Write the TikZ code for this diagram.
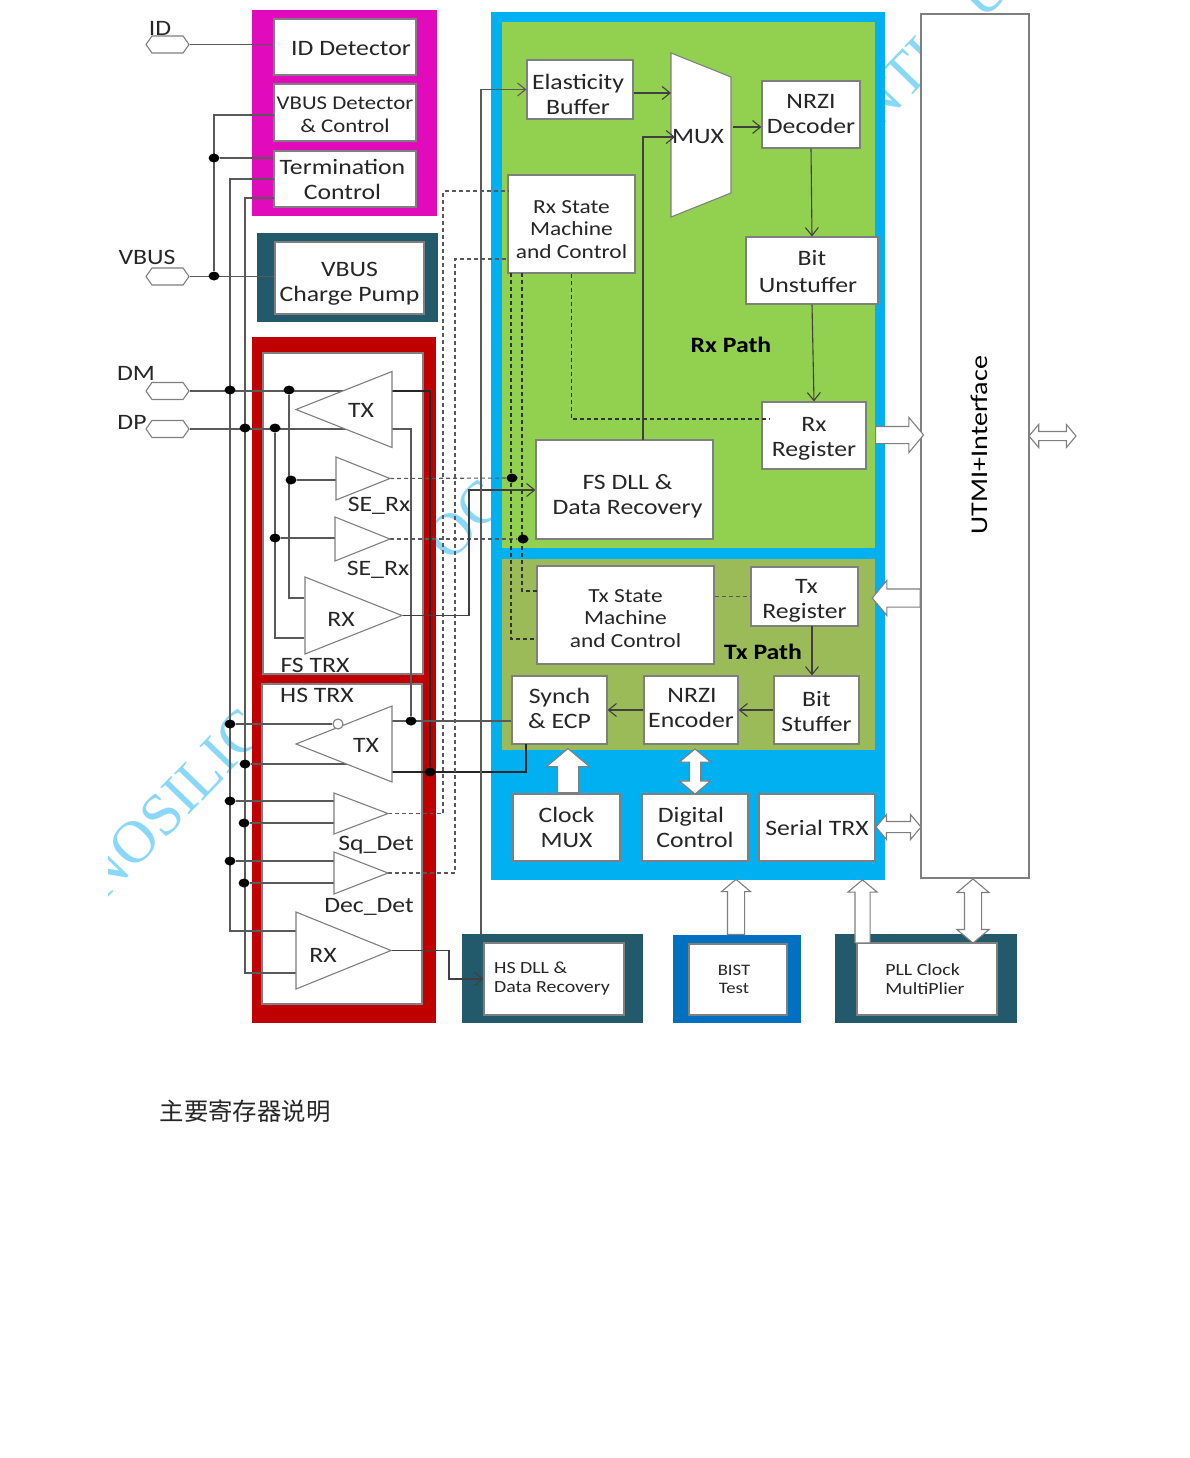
\documentclass[tikz,border=0pt]{standalone}
\usepackage{fontspec}
\setmainfont[FakeStretch=1.17]{Carlito}
\newfontfamily\cjkfont{Noto Sans CJK SC}
\newfontfamily\markfont{Liberation Serif}
\usepackage{xcolor}
\usetikzlibrary{arrows.meta, positioning, calc, shapes.geometric, shapes.symbols, shapes.arrows}
\pgfdeclarelayer{top}
\pgfsetlayers{main,top}
\definecolor{magentabg}{HTML}{E20BBC}
\definecolor{tealbg}{HTML}{225A6B}
\definecolor{redbg}{HTML}{C00000}
\definecolor{skybg}{HTML}{00B0F0}
\definecolor{greenbg}{HTML}{92D050}
\definecolor{olivebg}{HTML}{9BBB59}
\definecolor{bistbg}{HTML}{0070C0}
\definecolor{wiregray}{HTML}{595959}
\definecolor{edgegray}{HTML}{7F7F7F}
\definecolor{inkcolor}{HTML}{262626}
\definecolor{markcolor}{HTML}{8AD8F8}
% first line taller or last line deeper: moves the text of a box down or up
\newcommand{\tdown}[1]{\rule{0pt}{#1}}
\newcommand{\tup}[1]{\rule[-#1]{0pt}{0pt}}
\tikzset{
    blk/.style={draw=edgegray, line width=1.2pt, fill=white, inner sep=0pt, align=center, text=inkcolor, font=\fontsize{22}{25}\selectfont},
    blksmall/.style={blk, font=\fontsize{20}{22.5}\selectfont},
    blktiny/.style={blk, font=\fontsize{17}{19}\selectfont},
    lbl/.style={inner sep=0pt, text=inkcolor, font=\fontsize{22}{25}\selectfont},
    amp/.style={isosceles triangle, isosceles triangle stretches, draw=edgegray, line width=1.1pt, fill=white, inner sep=0pt, outer sep=0pt, anchor=apex},
    pad/.style={signal, signal to=west and east, signal pointer angle=110, draw=edgegray, line width=1.1pt, fill=white, inner sep=0pt, minimum width=43pt, minimum height=17pt},
    wire/.style={draw=wiregray, line width=1.1pt},
    inkwire/.style={draw=black!85, line width=1.2pt},
    dashwire/.style={draw=wiregray, line width=1.1pt, dash pattern=on 4pt off 3pt},
    myarrow/.style={-{Straight Barb[length=8pt, width=13pt]}, draw=black!75, line width=1.1pt},
    jdot/.style={ellipse, fill=black, inner sep=0pt, minimum width=11pt, minimum height=9pt},
    fatarrow/.style 2 args={single arrow, draw=edgegray, line width=1.1pt, fill=white, inner xsep=0pt, inner ysep=#1, single arrow head extend=#2, single arrow head indent=0pt, single arrow tip angle=100},
    fatboth/.style 2 args={double arrow, draw=edgegray, line width=1.1pt, fill=white, inner xsep=0pt, inner ysep=#1, double arrow head extend=#2, double arrow head indent=0pt, double arrow tip angle=100},
    wmark/.style={inner sep=0pt, rotate=46, text=markcolor, font=\markfont\fontsize{60}{60}\selectfont},
}
\begin{document}
\begin{tikzpicture}[x=1pt, y=-1pt]
\useasboundingbox (0,0) rectangle (1190,1458);

% ============================================================
% Watermark
% ============================================================
\begin{scope}
\clip (108,0) rectangle (1190,1458);
\node[wmark] (markleft) at (172,804) {NOSILIC};
\node[wmark] (markmid) at (465,520) {OC};
\node[wmark] (markright) at (897,83) {NTI};
\node[wmark] (marktop) at (985,-8) {U};
\end{scope}

% ============================================================
% Coloured panels
% ============================================================
\fill[magentabg] (252,10) rectangle (437,216);
\fill[tealbg] (257,233) rectangle (438,322);
\fill[redbg] (252,337) rectangle (436,1023);
\fill[skybg] (491,12) rectangle (885,880);
\fill[greenbg] (502,22) rectangle (875,548);
\fill[olivebg] (502,559) rectangle (875,750);
\fill[tealbg] (462,934) rectangle (643,1023);
\fill[bistbg] (673,935) rectangle (801,1023);
\fill[tealbg] (835,934) rectangle (1017,1023);
\draw[draw=edgegray, line width=1.2pt, fill=white] (263,353) rectangle (423,674);
\draw[draw=edgegray, line width=1.2pt, fill=white] (262,684) rectangle (422,1004);

% Left column
\node[blk, minimum width=142pt, minimum height=56pt] (iddet) at (345,47) {\hspace*{12pt}\tdown{18pt}ID Detector};
\node[blksmall, font=\fontsize{19.5}{23}\selectfont, minimum width=142pt, minimum height=57pt] (vdet) at (345,112.5) {\tdown{17pt}VBUS Detector\\\& Control};
\node[blk, minimum width=142pt, minimum height=56pt] (term) at (345,179) {\hspace*{-5pt}Termination\\\hspace*{-5pt}Control};
\node[blk, minimum width=149pt, minimum height=72pt] (vcp) at (349.5,278) {\tdown{26pt}VBUS\\Charge Pump};

% Rx path
\node[blk, minimum width=106pt, minimum height=59pt] (elast) at (580,89.5) {\hspace*{-4pt}\tdown{26pt}Elasticity\\\hspace*{-4pt}Buffer};
\node[blk, minimum width=98pt, minimum height=67pt] (nrzid) at (811,114.5) {NRZI\\Decoder};
\node[blksmall, minimum width=127pt, minimum height=98pt] (rxsm) at (571.5,224) {\tdown{24pt}Rx State\\Machine\\and Control};
\node[blk, minimum width=132pt, minimum height=67pt] (bitu) at (812,270.5) {\tdown{18pt}Bit\\[2pt]\hspace*{-8pt}Unstuffer};
\node[blk, minimum width=104pt, minimum height=67pt] (rxreg) at (814,435.5) {\tdown{20pt}Rx\\Register};
\node[blk, minimum width=177pt, minimum height=99pt] (fsdll) at (624.5,489.5) {\hspace*{6pt}\tdown{28pt}FS DLL \&\\\hspace*{6pt}Data Recovery};
\node[lbl, font=\fontsize{22}{25}\selectfont\bfseries, text=black] (rxpath) at (731,345) {Rx Path};

% Tx path
\node[blksmall, minimum width=177pt, minimum height=98pt] (txsm) at (625.5,615) {\tdown{20pt}Tx State\\Machine\\and Control};
\node[blk, minimum width=107pt, minimum height=59pt] (txreg) at (804.5,596.5) {\hspace*{4pt}\tdown{22pt}Tx\\Register};
\node[blk, minimum width=95pt, minimum height=68pt] (synch) at (559.5,710) {Synch\\\& ECP\tup{4pt}};
\node[blk, minimum width=94pt, minimum height=68pt] (nrzie) at (691,710) {\hspace*{2pt}NRZI\\Encoder\tup{4pt}};
\node[blk, minimum width=85pt, minimum height=68pt] (bits) at (816.5,710) {\tdown{18pt}Bit\\Stuffer};
\node[lbl, font=\fontsize{22}{25}\selectfont\bfseries, text=black] (txpath) at (763,652) {Tx Path};

% Lower row
\node[blk, minimum width=107pt, minimum height=67pt] (clkm) at (566.5,827.5) {Clock\\MUX};
\node[blk, minimum width=106pt, minimum height=67pt] (digc) at (695,827.5) {\hspace*{-8pt}Digital\\Control};
\node[blk, minimum width=116pt, minimum height=67pt] (strx) at (817,827.5) {Serial TRX};
\node[blktiny, align=left, minimum width=140pt, minimum height=72pt] (hsdll) at (554,979) {\hspace*{-4pt}HS DLL \&\\\hspace*{-4pt}Data Recovery};
\node[blktiny, font=\fontsize{16}{18}\selectfont, minimum width=98pt, minimum height=71pt] (bist) at (738,979.5) {\hspace*{-8pt}BIST\\\hspace*{-8pt}Test};
\node[blktiny, align=left, minimum width=140pt, minimum height=72pt] (pll) at (927,979) {\hspace*{-4pt}PLL Clock\\\hspace*{-4pt}MultiPlier};
\node[draw=edgegray, line width=1.2pt, fill=white, minimum width=108pt, minimum height=864pt, inner sep=0pt] (utmi) at (975,446) {};
\node[inner sep=0pt, rotate=90, text=black, font=\fontsize{24}{24}\selectfont] (utmitext) at (979,445) {UTMI+Interface};

% MUX
\draw[draw=edgegray, line width=1.1pt, fill=white] (671,53) -- (731,77) -- (731,193) -- (671,217) -- cycle;
\node[lbl] (mux) at (698,137) {MUX};

% ============================================================
% Pads and free wire ends
% ============================================================
\node[pad] (padid) at (167.5,44.5) {};
\node[pad] (padvbus) at (167.5,276.5) {};
\node[pad] (paddm) at (167.5,391) {};
\node[pad] (paddp) at (167.5,429) {};
\node[lbl] (lblid) at (160,28) {ID};
\node[lbl] (lblvbus) at (147,257) {VBUS};
\node[lbl] (lbldm) at (136,373) {DM};
\node[lbl] (lbldp) at (132,422) {DP};

\coordinate (tm) at (274,179);
\coordinate (tp) at (274,198);
\coordinate (vd) at (274,115);
\coordinate (bm) at (230,931);
\coordinate (bp) at (245,973);
\coordinate (fm) at (304,598);
\coordinate (fp) at (304,638);
\coordinate (cq) at (443,191);
\coordinate (rq) at (508,191);
\coordinate (cd) at (455,259);
\coordinate (rd) at (508,259);
\coordinate (cfs) at (469,490);
\coordinate (hsup) at (481,934);
\coordinate (muxa) at (671,93);
\coordinate (muxf) at (675,137);
\coordinate (muxo) at (733,127);
\coordinate (dllo) at (643,440);
\coordinate (rr) at (770,419);
\coordinate (rs1) at (511,273);
\coordinate (rs2) at (522,273);
\coordinate (ts1) at (537,639);
\coordinate (ts2) at (537,591);
\coordinate (txro) at (812,626);
\coordinate (synb) at (526,744);

% ============================================================
% Transceiver symbols, junctions
% ============================================================
\begin{pgfonlayer}{top}
\node[amp, shape border rotate=180, minimum height=96pt, minimum width=76pt] (txfs) at (296,409.5) {};
\node[amp, minimum height=54pt, minimum width=43pt] (se1) at (390,478.5) {};
\node[amp, minimum height=55pt, minimum width=44pt] (se2) at (390,539) {};
\node[amp, minimum height=97pt, minimum width=77pt] (fsrx) at (402,615.5) {};
\node[amp, shape border rotate=180, minimum height=96pt, minimum width=76pt] (hstx) at (296,744) {};
\node[circle, draw=edgegray, line width=1.1pt, fill=white, inner sep=0pt, minimum size=10pt] (bubble) at (338,724) {};
\node[amp, minimum height=54pt, minimum width=41pt] (sqdet) at (388,813.5) {};
\node[amp, minimum height=54pt, minimum width=42pt] (decdet) at (388,873) {};
\node[amp, minimum height=95pt, minimum width=77pt] (hsrx) at (391,950.5) {};

\node[lbl] (lbltxfs) at (361,410) {TX};
\node[lbl] (lblse1) at (379,506) {SE\_Rx};
\node[lbl] (lblse2) at (378,570) {SE\_Rx};
\node[lbl] (lblrxfs) at (341,619) {RX};
\node[lbl] (lblfs) at (315,665) {FS TRX};
\node[lbl] (lblhs) at (317,695) {HS TRX};
\node[lbl] (lbltxhs) at (366,745) {TX};
\node[lbl] (lblsq) at (376,845) {Sq\_Det};
\node[lbl] (lbldec) at (369,907) {Dec\_Det};
\node[lbl] (lblrxhs) at (323,955) {RX};

\node[jdot] (jv1) at (214,158) {};
\node[jdot] (jv2) at (214,276) {};
\node[jdot] (jfm) at (230,390) {};
\node[jdot] (jfp) at (245,428) {};
\node[jdot] (jfm2) at (289,390) {};
\node[jdot] (jfp2) at (275,428) {};
\node[jdot] (jse1) at (291,480) {};
\node[jdot] (jse2) at (275,538) {};
\node[jdot] (jhm) at (230,724) {};
\node[jdot] (jhp) at (245,764) {};
\node[jdot] (jsq1) at (230,801) {};
\node[jdot] (jsq2) at (244,823) {};
\node[jdot] (jde1) at (230,861) {};
\node[jdot] (jde2) at (244,883) {};
\node[jdot] (jtxo) at (411,721) {};
\node[jdot] (jtxr) at (430,772) {};
\node[jdot] (jr1) at (512,478) {};
\node[jdot] (jr2) at (523,539) {};
\end{pgfonlayer}

% ============================================================
% Wires
% ============================================================
\draw[wire] (padid.east) -- (iddet.west |- padid);
\draw[wire] (padvbus.east) -- (vcp.west |- padvbus);
\draw[wire] (jv2) |- (vd);
\draw[wire] (jv1) -- (term.west |- jv1);
\draw[wire] (tm) -| (bm) -- (bm -| hsrx.west);
\draw[wire] (tp) -| (bp) -- (bp -| hsrx.west);
\draw[wire] (paddm.east) -- (paddm -| txfs.east);
\draw[wire] (paddp.east) -- (paddp -| txfs.east);
\draw[wire] (jfm2) |- (fm);
\draw[wire] (jfp2) |- (fp);
\draw[wire] (jse1) -- (jse1 -| se1.west);
\draw[wire] (jse2) -- (jse2 -| se2.west);
\draw[inkwire] (paddm -| txfs.east) -| (jtxr);
\draw[wire] (paddp -| txfs.east) -| (jtxo);
\draw[wire] (jhm) -- (bubble);
\draw[wire] (jhp) -- (jhp -| hstx.east);
\draw[wire] (jsq1) -- (jsq1 -| sqdet.west);
\draw[wire] (jsq2) -- (jsq2 -| sqdet.west);
\draw[wire] (jde1) -- (jde1 -| decdet.west);
\draw[wire] (jde2) -- (jde2 -| decdet.west);
\draw[wire] (jtxo -| hstx.east) -- (jtxo -| synch.west);
\draw[inkwire] (jtxr -| hstx.east) -| (synb);
\draw[dashwire] (se1.apex) -- (jr1);
\draw[dashwire] (se2.apex) -- (jr2);
\draw[dashwire] (sqdet.apex) -| (cq) -- (rq);
\draw[dashwire] (decdet.apex) -| (cd) -- (rd);
\draw[myarrow] (fsrx.apex) -| (cfs) -- (fsdll.west |- cfs);
\draw[myarrow] (hsrx.apex) -- +(58,0) |- (hsdll.west);
\draw[wire, -{Straight Barb[length=8pt, width=13pt]}] (hsup) |- (elast.west);
\draw[myarrow] (elast.east |- muxa) -- (muxa);
\draw[myarrow] (dllo) |- (muxf);
\draw[myarrow] (muxo) -- (nrzid.west |- muxo);
\draw[myarrow] (nrzid.south) -- (bitu.north);
\draw[myarrow] (bitu.south) -- (rxreg.north);
\draw[dashwire, draw=black!80] (rxsm.south) |- (rr);
\draw[dashwire, draw=black!80] (rs1) |- (ts1);
\draw[dashwire, draw=black!80] (rs2) |- (ts2);
\draw[dashwire] (txsm.east |- txreg) -- (txreg.west);
\draw[myarrow] (txro) -- (txro |- bits.north);
\draw[myarrow] (bits.west) -- (nrzie.east);
\draw[myarrow] (nrzie.west) -- (synch.east);

% ============================================================
% Bus arrows
% ============================================================
\node[fatarrow={10pt}{11pt}, minimum height=44pt, rotate=90] (clkup) at (568,775) {};
\node[fatboth={5pt}{10pt}, minimum height=45pt, rotate=90] (digboth) at (695,771.5) {};
\node[fatarrow={8pt}{9pt}, minimum height=48pt] (rxout) at (896,435) {};
\node[fatarrow={8.5pt}{8.5pt}, minimum height=48pt, rotate=180] (txin) at (900,598) {};
\node[fatboth={5pt}{7pt}, minimum height=45pt] (serboth) at (898.5,827) {};
\node[fatboth={4pt}{7pt}, minimum height=47pt] (extboth) at (1052.5,436) {};
\node[fatarrow={8pt}{6pt}, minimum height=55pt, rotate=90] (bistup) at (736,910.5) {};
\node[fatarrow={7pt}{7pt}, minimum height=63pt, rotate=90] (pllup) at (862.5,914.5) {};
\node[fatboth={8pt}{7.5pt}, minimum height=64pt, rotate=90] (pllboth) at (973,911) {};

% Caption
\node[inner sep=0pt, text=inkcolor, font=\cjkfont\fontsize{24.4}{24}\selectfont] (caption) at (245,1111) {主要寄存器说明};

\end{tikzpicture}
\end{document}
